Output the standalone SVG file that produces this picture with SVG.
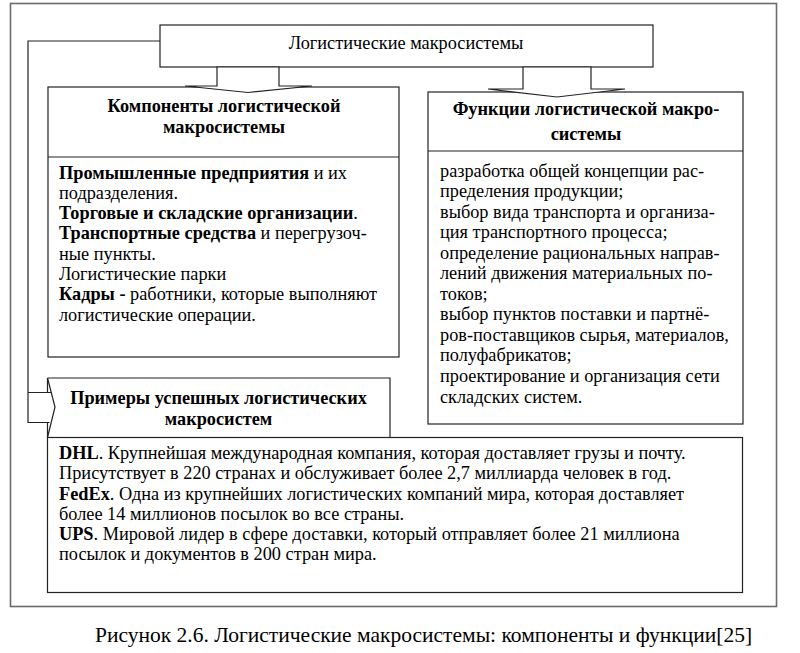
<svg xmlns="http://www.w3.org/2000/svg" width="800" height="653" viewBox="0 0 800 653">
<style>
text{fill:#000;font-size:18.3px;font-family:"Liberation Serif","Times New Roman",serif}
.b{font-weight:bold}
.c{text-anchor:middle}
.box{fill:#fff;stroke:#222;stroke-width:1.2}
.ln{fill:none;stroke:#222;stroke-width:1.2}
</style>
<rect width="800" height="653" fill="#fff"/>
<rect x="10.5" y="3.5" width="766" height="603" fill="none" stroke="#6b6b6b" stroke-width="1.6"/>
<g id="top">
<rect class="box" x="160" y="25" width="493" height="42"/>
<text class="c" x="406" y="48.5">Логистические макросистемы</text>
</g>

<g id="components">
<rect class="box" x="48" y="87" width="351" height="270"/>
<line class="ln" x1="48" y1="157" x2="399" y2="157"/>
<text class="b c" x="224" y="111.5">Компоненты логистической</text>
<text class="b c" x="224" y="132.5">макросистемы</text>
<text x="59" y="178.5"><tspan class="b">Промышленные предприятия</tspan> и их</text>
<text x="59" y="198.8">подразделения.</text>
<text x="59" y="219.1"><tspan class="b">Торговые и складские организации</tspan>.</text>
<text x="59" y="239.4"><tspan class="b">Транспортные средства</tspan> и перегрузоч-</text>
<text x="59" y="259.7">ные пункты.</text>
<text x="59" y="280">Логистические парки</text>
<text x="59" y="300.3"><tspan class="b">Кадры -</tspan> работники, которые выполняют</text>
<text x="59" y="320.6">логистические операции.</text>
</g>

<g id="functions">
<rect class="box" x="428" y="92" width="315" height="332"/>
<line class="ln" x1="428" y1="151" x2="743" y2="151"/>
<text class="b c" x="586" y="115">Функции логистической макро-</text>
<text class="b c" x="586" y="140">системы</text>
<text x="440" y="176.5">разработка общей концепции рас-</text>
<text x="440" y="197.05">пределения продукции;</text>
<text x="440" y="217.6">выбор вида транспорта и организа-</text>
<text x="440" y="238.15">ция транспортного процесса;</text>
<text x="440" y="258.7">определение рациональных направ-</text>
<text x="440" y="279.25">лений движения материальных по-</text>
<text x="440" y="299.8">токов;</text>
<text x="440" y="320.35">выбор пунктов поставки и партнё-</text>
<text x="440" y="340.9">ров-поставщиков сырья, материалов,</text>
<text x="440" y="361.45">полуфабрикатов;</text>
<text x="440" y="382">проектирование и организация сети</text>
<text x="440" y="402.55">складских систем.</text>
</g>

<g id="examples-header">
<path class="box" d="M47.5,378 H390 V437.5 H47.5 V422.5 M47.5,392.5 V378"/>
<path class="ln" d="M47.5,378 L55,407 L47.5,437.5"/>
<text class="b c" x="218.5" y="404">Примеры успешных логистических</text>
<text class="b c" x="218.5" y="425">макросистем</text>
</g>

<g id="examples">
<rect class="box" x="47.5" y="437.5" width="695" height="155"/>
<text x="59" y="459.3"><tspan class="b">DHL</tspan>. Крупнейшая международная компания, которая доставляет грузы и почту.</text>
<text x="59" y="479.45">Присутствует в 220 странах и обслуживает более 2,7 миллиарда человек в год.</text>
<text x="59" y="499.6"><tspan class="b">FedEx</tspan>. Одна из крупнейших логистических компаний мира, которая доставляет</text>
<text x="59" y="519.75">более 14 миллионов посылок во все страны.</text>
<text x="59" y="539.9"><tspan class="b">UPS</tspan>. Мировой лидер в сфере доставки, который отправляет более 21 миллиона</text>
<text x="59" y="560.05">посылок и документов в 200 стран мира.</text>
</g>

<g id="connectors">
<polygon class="box" points="217,67 217,86 185,86 248,92.5 312,86 279,86 279,67"/>
<polygon class="box" points="523,67 523,89 488,89 557,97 625,89 591,89 591,67"/>
<path class="ln" d="M160,41 H28 V422.5 H49.5 M28,392.5 H51"/>
</g>

<text x="95" y="641.5" style="font-size:21.5px">Рисунок 2.6. Логистические макросистемы: компоненты и функции[25]</text>
</svg>
